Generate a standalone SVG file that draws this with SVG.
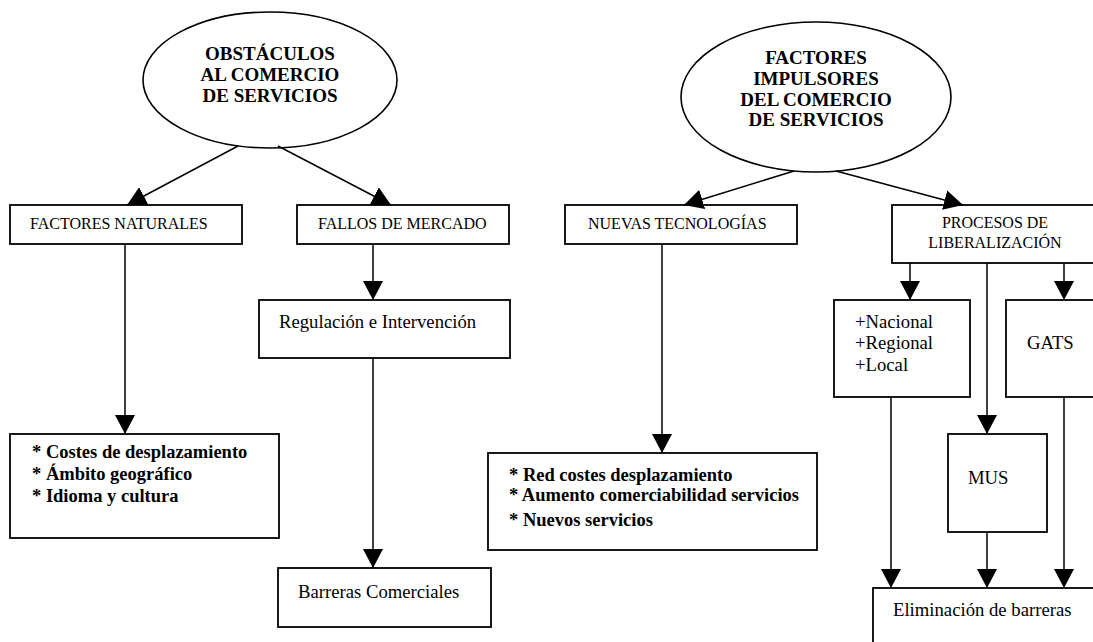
<svg xmlns="http://www.w3.org/2000/svg" width="1093" height="642" viewBox="0 0 1093 642">
<style>
.box{fill:#fff;stroke:#000;stroke-width:1.8}
.ell{fill:#fff;stroke:#000;stroke-width:1.6}
.t{font-family:"Liberation Serif","Times New Roman",serif;fill:#000}
.cap{font-size:16px}
.lbl{font-size:18.7px}
.hd{font-size:19px;font-weight:bold;text-anchor:middle}
.bl{font-size:18.5px;font-weight:bold}
.c{stroke:#000;stroke-width:1.5;fill:none;marker-end:url(#ah)}
</style>
<defs>
<marker id="ah" markerUnits="userSpaceOnUse" markerWidth="20" markerHeight="20" refX="19" refY="10" orient="auto">
<path d="M0,0 L19,10 L0,20 z" fill="#000"/>
</marker>
</defs>
<rect width="1093" height="642" fill="#fff"/>

<g id="n-obstaculos">
<ellipse class="ell" cx="270" cy="80" rx="127" ry="68"/>
<text class="t hd" x="270" y="60">OBSTÁCULOS</text>
<text class="t hd" x="270" y="81">AL COMERCIO</text>
<text class="t hd" x="270" y="102">DE SERVICIOS</text>
</g>
<g id="n-factores-impulsores">
<ellipse class="ell" cx="816" cy="97" rx="135" ry="75"/>
<text class="t hd" x="816" y="64">FACTORES</text>
<text class="t hd" x="816" y="85">IMPULSORES</text>
<text class="t hd" x="816" y="106">DEL COMERCIO</text>
<text class="t hd" x="816" y="126">DE SERVICIOS</text>
</g>
<g id="n-factores-naturales">
<rect class="box" x="10" y="205" width="232" height="39"/>
<text class="t cap" x="30" y="229">FACTORES NATURALES</text>
</g>
<g id="n-fallos">
<rect class="box" x="297" y="205" width="212" height="39"/>
<text class="t cap" x="318" y="229">FALLOS DE MERCADO</text>
</g>
<g id="n-regulacion">
<rect class="box" x="259" y="300" width="251" height="58"/>
<text class="t lbl" x="279" y="328">Regulación e Intervención</text>
</g>
<g id="n-barreras">
<rect class="box" x="278" y="568" width="213" height="59"/>
<text class="t lbl" x="298" y="598">Barreras Comerciales</text>
</g>
<g id="n-costes">
<rect class="box" x="10" y="434" width="269" height="104"/>
<text class="t bl" x="32" y="458">* Costes de desplazamiento</text>
<text class="t bl" x="32" y="480">* Ámbito geográfico</text>
<text class="t bl" x="32" y="502">* Idioma y cultura</text>
</g>
<g id="n-nuevas">
<rect class="box" x="565" y="205" width="232" height="39"/>
<text class="t cap" x="588" y="229">NUEVAS TECNOLOGÍAS</text>
</g>
<g id="n-red">
<rect class="box" x="488" y="453" width="329" height="97"/>
<text class="t bl" x="509" y="481">* Red costes desplazamiento</text>
<text class="t bl" x="509" y="501">* Aumento comerciabilidad servicios</text>
<text class="t bl" x="509" y="526">* Nuevos servicios</text>
</g>
<g id="n-procesos">
<rect class="box" x="892" y="205" width="210" height="58"/>
<text class="t cap" x="995" y="228" text-anchor="middle">PROCESOS DE</text>
<text class="t cap" x="995" y="248" text-anchor="middle">LIBERALIZACIÓN</text>
</g>
<g id="n-nacional">
<rect class="box" x="834" y="300" width="136" height="97"/>
<text class="t lbl" x="855" y="328">+Nacional</text>
<text class="t lbl" x="855" y="349">+Regional</text>
<text class="t lbl" x="855" y="371">+Local</text>
</g>
<g id="n-gats">
<rect class="box" x="1006" y="300" width="96" height="97"/>
<text class="t lbl" x="1027" y="349">GATS</text>
</g>
<g id="n-mus">
<rect class="box" x="948" y="434" width="99" height="98"/>
<text class="t lbl" x="968" y="484">MUS</text>
</g>
<g id="n-eliminacion">
<rect class="box" x="873" y="588" width="230" height="70"/>
<text class="t lbl" x="893" y="616">Eliminación de barreras</text>
</g>

<g id="connectors">
<line class="c" x1="238" y1="146" x2="127" y2="205"/>
<line class="c" x1="278" y1="146" x2="391" y2="205"/>
<line class="c" x1="794" y1="171" x2="684" y2="205"/>
<line class="c" x1="836" y1="171" x2="963" y2="205"/>
<line class="c" x1="125" y1="244" x2="125" y2="434"/>
<line class="c" x1="373" y1="244" x2="373" y2="300"/>
<line class="c" x1="373" y1="358" x2="373" y2="568"/>
<line class="c" x1="662" y1="244" x2="662" y2="453"/>
<line class="c" x1="910" y1="263" x2="910" y2="300"/>
<line class="c" x1="987" y1="263" x2="987" y2="434"/>
<line class="c" x1="1064" y1="263" x2="1064" y2="300"/>
<line class="c" x1="891" y1="397" x2="891" y2="588"/>
<line class="c" x1="987" y1="532" x2="987" y2="588"/>
<line class="c" x1="1064" y1="397" x2="1064" y2="588"/>
</g>
</svg>
